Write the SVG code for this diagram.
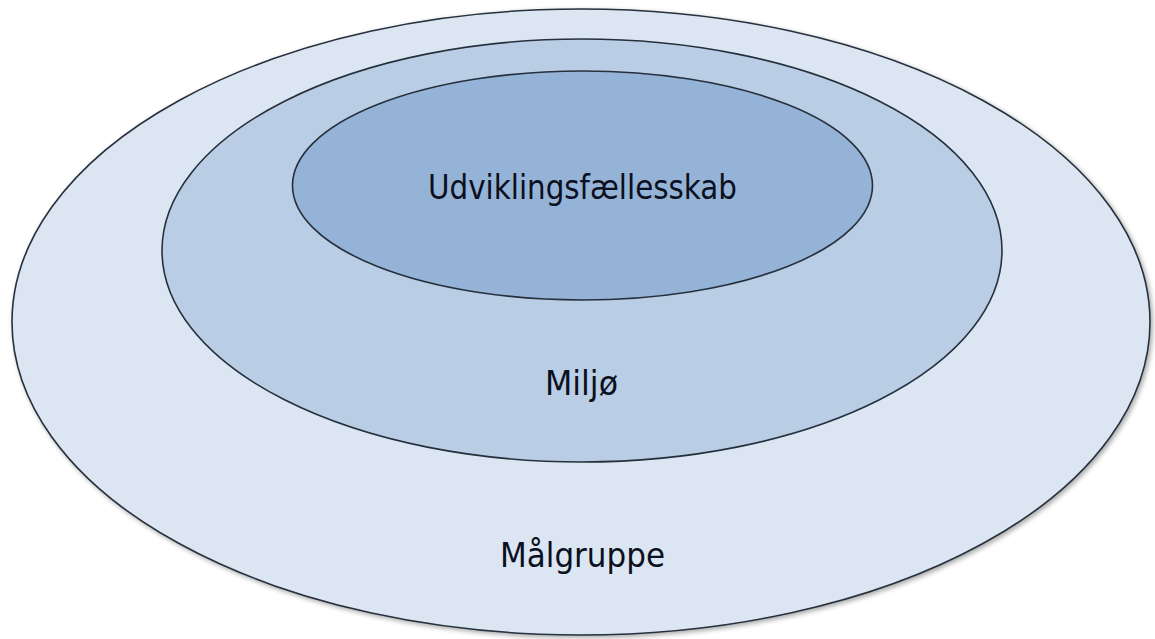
<svg xmlns="http://www.w3.org/2000/svg" width="1155" height="639" viewBox="0 0 1155 639">
  <style>
    .ring { stroke: #26303d; stroke-width: 1.6; }
    .lbl { font-family: "DejaVu Sans", Tahoma, Verdana, sans-serif; font-size: 33px; fill: #0b1020; text-anchor: middle; }
  </style>
  <defs>
    <filter id="soft-shadow" x="-5%" y="-5%" width="110%" height="110%">
      <feGaussianBlur in="SourceAlpha" stdDeviation="2.5"/>
      <feOffset dx="2" dy="2" result="blur"/>
      <feComponentTransfer><feFuncA type="linear" slope="0.35"/></feComponentTransfer>
      <feMerge><feMergeNode/><feMergeNode in="SourceGraphic"/></feMerge>
    </filter>
  </defs>
  <rect width="1155" height="639" fill="#ffffff"/>

  <g id="maalgruppe">
    <ellipse class="ring" cx="581" cy="322" rx="569" ry="313" fill="#dce6f2" filter="url(#soft-shadow)"/>
    <text class="lbl" x="582.5" y="567" textLength="165" lengthAdjust="spacingAndGlyphs">Målgruppe</text>
  </g>

  <g id="miljoe">
    <ellipse class="ring" cx="582" cy="250.5" rx="420" ry="211.5" fill="#b9cde5"/>
    <text class="lbl" x="581.5" y="395" textLength="73" lengthAdjust="spacingAndGlyphs">Miljø</text>
  </g>

  <g id="udviklingsfaellesskab">
    <ellipse class="ring" cx="582.5" cy="185.5" rx="290" ry="114.5" fill="#95b3d7"/>
    <text class="lbl" x="582.5" y="199" textLength="309" lengthAdjust="spacingAndGlyphs">Udviklingsfællesskab</text>
  </g>

  <g id="connectors"/>
</svg>
